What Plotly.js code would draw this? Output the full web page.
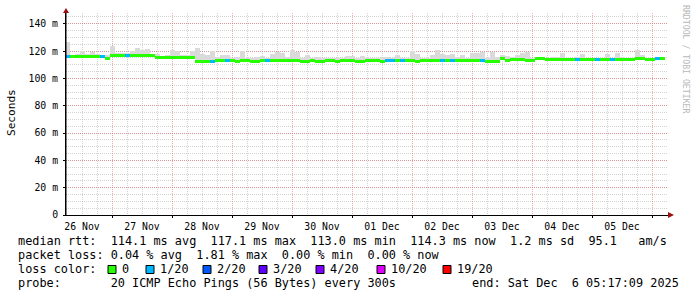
<!DOCTYPE html>
<html><head><meta charset="utf-8">
<script src="https://cdn.plot.ly/plotly-3.0.1.min.js"></script>
<style>html,body{margin:0;padding:0;background:#fff;}#chart{width:697px;height:297px;}</style>
</head><body><div id="chart"></div>
<script>
// ---- data ----
const startTime = Date.UTC(2025, 10, 26, 5, 17, 9);
const stepHours = 2;
const median = [
 115.8,115.8,115.8,115.8,115.8,115.8,115.8,115.8,114.8,117.0,
 117.0,117.0,117.0,117.0,117.0,117.0,117.0,117.0,115.5,115.5,
 115.5,115.5,115.5,115.5,115.5,115.5,112.5,112.5,112.5,112.5,
 113.0,113.0,113.0,113.1,112.6,113.1,113.2,112.6,112.6,113.2,
 113.2,113.2,113.2,113.2,113.2,113.2,113.2,112.5,112.5,113.2,
 112.6,112.5,113.2,113.2,112.6,113.2,113.2,113.2,112.6,112.6,
 113.1,113.1,113.1,112.7,113.1,113.1,113.1,113.1,113.1,113.1,
 112.6,113.1,113.1,113.1,113.1,113.1,113.1,113.1,113.1,113.1,
 113.1,113.1,113.1,113.1,112.4,112.4,112.4,114.3,113.0,113.9,
 113.9,113.9,113.2,112.8,114.4,114.4,114.0,114.0,114.0,114.0,
 114.0,114.0,114.0,114.0,114.0,114.0,114.0,114.0,114.0,114.0,
 114.0,114.0,114.0,114.0,114.3,114.3,114.0,114.0,114.3,114.3
];
const smokeHi = [
 127,117.5,118,120,118,119.5,118,117.5,117,124,
 118.5,118.5,118.5,120,122.5,121,121.5,118,118,116.5,
 117,120.8,120,117,117,120,122.5,118,117,120,
 116,117,117,115,116,120,115,115,116,116.5,
 115,118,119,118.5,116,120.8,119.5,115,117,115,
 116,115,115,115,115,115,116.4,116.4,115,116.4,
 115,115,115,116,115.5,115,117,115,115,120,
 118,115,115,117,120.8,118,117,118,116,117,
 115,118.5,118.5,119.5,115,119,115.5,117,116.6,116,
 117,118.5,119.5,115,115,116,115,116,115.5,118.5,
 115,115,116,118,115,115,115,115,118,115,
 118.5,115.5,115,115,120.8,117,115,115,115,115
];
const lossCount = [
 1,0,0,0,0,0,0,1,0,0,
 0,0,1,0,0,0,0,0,0,0,
 0,0,0,0,0,0,0,0,0,1,
 0,0,1,0,0,0,0,0,0,0,
 1,0,0,0,0,0,0,0,0,0,
 0,0,0,0,0,0,0,0,0,0,
 0,0,0,0,1,1,0,1,0,0,
 0,0,0,0,0,1,0,1,0,0,
 0,0,0,1,0,0,0,0,0,0,
 0,0,0,0,0,0,0,0,0,0,
 0,0,1,0,0,0,1,0,0,1,
 0,0,0,0,0,0,0,0,1,0
];
const lossLabels = ['0','1/20','2/20','3/20','4/20','10/20','19/20'];
const lossThresholds = [0,1,2,3,4,10,19];
const lossColors = ['#26ff00','#00b8ff','#0059ff','#5e00ff','#7e00ff','#dd00ff','#ff0000'];
const yTickVals = [0,20,40,60,80,100,120,140];
const yTickText = ['0','20 m','40 m','60 m','80 m','100 m','120 m','140 m'];
const statsRtt = 'median rtt:  114.1 ms avg  117.1 ms max  113.0 ms min  114.3 ms now  1.2 ms sd  95.1   am/s';
const statsLoss = 'packet loss: 0.04 % avg  1.81 % max  0.00 % min  0.00 % now';
const lossTitle = 'loss color:';
const probeText = 'probe:       20 ICMP Echo Pings (56 Bytes) every 300s';
const endText = 'end: Sat Dec  6 05:17:09 2025';
const yTitle = 'Seconds';
const watermark = 'RRDTOOL / TOBI OETIKER';

// ---- build ----
const stepMs = stepHours * 3600 * 1000;
const times = median.map((_, i) => startTime + (i + 0.5) * stepMs);
function lossColor(n){ let c = 0; lossThresholds.forEach((t,k)=>{ if(n>=t) c=k; }); return lossColors[c]; }
const lineHalf = 1.1;

const smokeTrace = {
  type:'bar', x: times, base: median,
  y: smokeHi.map((v,i)=>Math.max(0, v - median[i])),
  width: stepMs*1.05, marker:{color:'#dadada', line:{width:0}}, hoverinfo:'skip'
};
const medTrace = {
  type:'bar', x: times, base: median.map(v=>v-lineHalf),
  y: median.map(()=>2*lineHalf),
  width: stepMs*1.08, marker:{color: lossCount.map(lossColor), line:{width:0}}, hoverinfo:'skip'
};

const L=66, R=668, T=13, B=215;
const px = x => (x-L)/(R-L);
const py = y => (B-y)/(B-T);
const nb = s => s.replace(/ /g,'\u00a0');
const mono = 'DejaVu Sans Mono';
const legFont = {family:mono, size:11.85, color:'#000'};

const swatchX = [108,146,203,259,316,377,443];
const annotations = [
  {text:nb(statsRtt), x:px(16), y:py(241.5)},
  {text:nb(statsLoss), x:px(16), y:py(255)},
  {text:nb(lossTitle), x:px(16), y:py(269)},
  {text:nb(probeText), x:px(16), y:py(283)},
].map(a=>Object.assign(a,{xref:'paper',yref:'paper',xanchor:'left',yanchor:'middle',showarrow:false,font:legFont}));
lossLabels.forEach((lab,k)=>annotations.push({text:lab, x:px(swatchX[k]+12), y:py(269), xref:'paper', yref:'paper', xanchor:'left', yanchor:'middle', showarrow:false, font:legFont}));
annotations.push({text:nb(endText), x:px(681), y:py(283), xref:'paper', yref:'paper', xanchor:'right', yanchor:'middle', showarrow:false, font:legFont});
annotations.push({text:yTitle, x:px(11), y:py(113), xref:'paper', yref:'paper', xanchor:'center', yanchor:'middle', textangle:-90, showarrow:false, font:{family:mono, size:11.1, color:'#000'}});
annotations.push({text:nb(watermark), x:px(686), y:py(59), xref:'paper', yref:'paper', xanchor:'center', yanchor:'middle', textangle:90, showarrow:false, font:{family:mono, size:8.2, color:'#b8b8b8'}});

const shapes = lossColors.map((c,k)=>({type:'rect', xref:'paper', yref:'paper', x0:px(swatchX[k]), x1:px(swatchX[k]+8), y0:py(273.5), y1:py(265.5), fillcolor:c, line:{color:'#000', width:1}}));
const pp = (x,y) => px(x)+','+py(y);
shapes.push({type:'line', xref:'paper', yref:'paper', x0:px(66), x1:px(66), y0:py(215), y1:py(10), line:{color:'#000', width:1}});
shapes.push({type:'path', xref:'paper', yref:'paper', path:'M'+pp(668,212)+' L'+pp(668,218)+' L'+pp(674,215)+' Z', fillcolor:'#991111', line:{width:0}});
shapes.push({type:'path', xref:'paper', yref:'paper', path:'M'+pp(63,13)+' L'+pp(69,13)+' L'+pp(66,8)+' Z', fillcolor:'#991111', line:{width:0}});

const majorGrid = 'rgba(225,90,90,0.5)';
const minorGrid = 'rgba(150,150,150,0.42)';
const layout = {
  width:697, height:297,
  margin:{l:66, r:29, t:13, b:82, pad:0},
  paper_bgcolor:'#fff', plot_bgcolor:'#fff',
  showlegend:false, barmode:'overlay', bargap:0,
  font:{family:mono, size:9.8, color:'#000'},
  xaxis:{type:'date', range:['2025-11-26 05:36:00','2025-12-06 06:24:00'],
    tick0:'2025-11-26', dtick:86400000, ticklabelmode:'period', tickformat:'%d %b',
    showgrid:true, gridcolor:majorGrid, griddash:'1px,1px', gridwidth:1,
    minor:{dtick:21600000, showgrid:true, gridcolor:minorGrid, griddash:'1px,1px', gridwidth:1},
    showline:true, linecolor:'#000', linewidth:1, ticks:'outside', ticklen:2, tickcolor:'#000',
    zeroline:false, fixedrange:true, tickfont:{family:mono, size:9.8, color:'#000'}},
  yaxis:{range:[0,147.9], tickvals:yTickVals, ticktext:yTickText,
    showgrid:true, gridcolor:majorGrid, griddash:'1px,1px', gridwidth:1,
    minor:{dtick:5, tick0:0, showgrid:true, gridcolor:minorGrid, griddash:'1px,1px', gridwidth:1},
    showline:true, linecolor:'#000', linewidth:1, ticks:'outside', ticklen:2, tickcolor:'#000',
    ticklabelstandoff:3, zeroline:false, fixedrange:true, tickfont:{family:mono, size:9.8, color:'#000'}},
  annotations, shapes
};
Plotly.newPlot('chart', [smokeTrace, medTrace], layout, {staticPlot:true, displayModeBar:false});
</script></body></html>
